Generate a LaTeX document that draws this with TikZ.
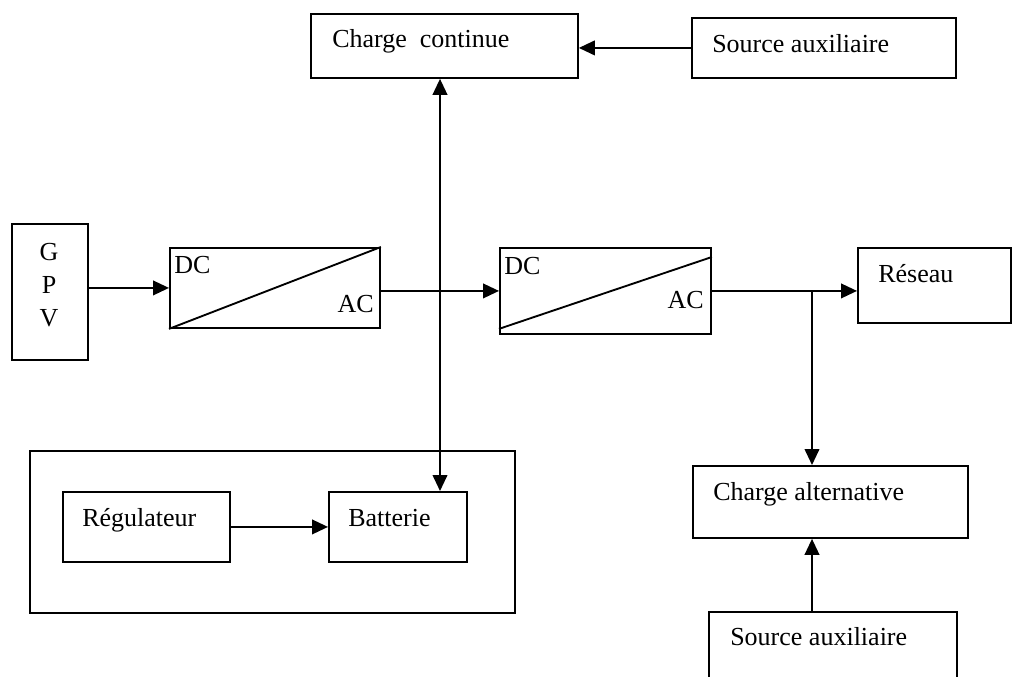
\documentclass[tikz,border=0pt]{standalone}
\usepackage{fontspec}
\setmainfont{Liberation Serif}
\usetikzlibrary{arrows.meta}

\tikzset{
 bloc/.style 2 args={draw, line width=1.4pt, anchor=north west, inner sep=0pt, minimum width=#1*0.75pt, minimum height=#2*0.75pt},
 fleche/.style={line width=1.4pt, -{Triangle[length=12pt,width=11pt]}},
 fleche2/.style={line width=1.4pt, {Triangle[length=12pt,width=11pt]}-{Triangle[length=12pt,width=11pt]}},
 txt/.style={font=\fontsize{19.5}{23}\selectfont, inner sep=0pt, anchor=base west},
}

\begin{document}
\begin{tikzpicture}[x=0.75pt,y=0.75pt,yscale=-1,xscale=1]
 \useasboundingbox (0,0) rectangle (1012,677);

 %Blocs
 \node[bloc={267}{64}] (cc) at (310,13) {};
 \node[bloc={264}{60}] (sa1) at (691,17) {};
 \node[bloc={76}{136}] (gpv) at (11,223) {};
 \node[bloc={210}{80}] (conv1) at (169,247) {};
 \node[bloc={211}{86}] (conv2) at (499,247) {};
 \node[bloc={153}{75}] (reseau) at (857,247) {};
 \node[bloc={485}{162}] (stock) at (29,450) {};
 \node[bloc={167}{70}] (reg) at (62,491) {};
 \node[bloc={138}{70}] (bat) at (328,491) {};
 \node[bloc={275}{72}] (cha) at (692,465) {};
 \node[bloc={246}{65}, draw=none] (sa2) at (709,612) {};
 \draw[line width=1.4pt] (sa2.south west) -- (sa2.north west) -- (sa2.north east) -- (sa2.south east);

 %Diagonales des convertisseurs
 \draw[line width=1.4pt] (conv1.south west) -- (conv1.north east);
 \draw[line width=1.4pt] ([yshift=-4.5pt]conv2.south west) -- ([yshift=7.5pt]conv2.north east);

 %Points de jonction
 \coordinate (bus) at (440,291);
 \coordinate (jonc) at (812,291);

 %Liaisons
 \draw[fleche] (sa1.west) -- (sa1.west -| cc.east);
 \draw[fleche] (gpv.east |- conv1.west) -- (conv1.west);
 \draw[fleche] (conv1.east |- conv2.west) -- (conv2.west);
 \draw[fleche] (conv2.east) -- (conv2.east -| reseau.west);
 \draw[fleche2] (bus |- cc.south) -- (bus |- bat.north);
 \draw[fleche] (jonc) -- (jonc |- cha.north);
 \draw[fleche] (jonc |- sa2.north) -- (jonc |- cha.south);
 \draw[fleche] (reg.east) -- (bat.west);

 % Text Node
 \node[txt] (t-cc) at (332,48) {Charge\ \ continue};
 \node[txt] (t-sa1) at (712,53) {Source auxiliaire};
 \node[font=\fontsize{19.5}{24.75}\selectfont, inner sep=0pt, align=center, anchor=north] (t-gpv) at (49,243) {G\\P\\V};
 \node[txt] (t-dc1) at (174,273) {DC};
 \node[txt, anchor=base east] (t-ac1) at (374,312) {AC};
 \node[txt] (t-dc2) at (504,274) {DC};
 \node[txt, anchor=base east] (t-ac2) at (704,308) {AC};
 \node[txt] (t-res) at (878,282) {Réseau};
 \node[txt] (t-reg) at (82,526) {Régulateur};
 \node[txt] (t-bat) at (348,526) {Batterie};
 \node[txt] (t-cha) at (713,500) {Charge alternative};
 \node[txt] (t-sa2) at (730,645) {Source auxiliaire};

\end{tikzpicture}
\end{document}
